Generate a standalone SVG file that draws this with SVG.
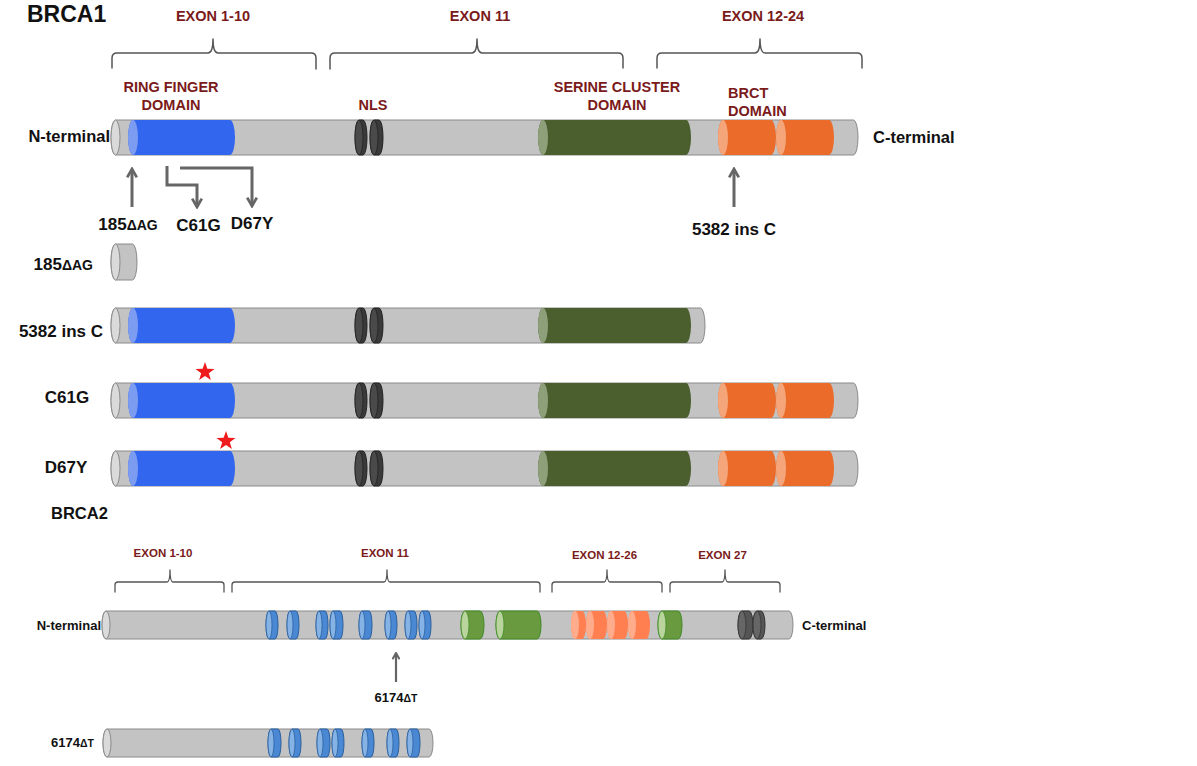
<svg xmlns="http://www.w3.org/2000/svg" xmlns:xlink="http://www.w3.org/1999/xlink" width="1197" height="766" viewBox="0 0 1197 766">
<style>
text{font-family:"Liberation Sans",Arial,sans-serif;font-weight:bold}
.lbl{fill:#111}
.ex{fill:#7a1a1a}
.brace{fill:none;stroke:#555;stroke-width:1.5;stroke-linejoin:round;stroke-linecap:round}
.brace2{fill:none;stroke:#555;stroke-width:1.3;stroke-linejoin:round;stroke-linecap:round}
.gray{fill:#c3c3c3;stroke:#8a8a8a;stroke-width:1}
.grayf{fill:#dadada;stroke:#8a8a8a;stroke-width:1}
.blue{fill:#3366ee}
.bluef{fill:#7c9cf2}
.nls{fill:#3a3a3a;stroke:#222;stroke-width:1}
.nlsf{fill:#4a4a4a;stroke:#222;stroke-width:0.8}
.grn{fill:#4b5e2e}
.grnf{fill:#8da07a}
.org{fill:#ea6b2a}
.orgf{fill:#f4a57a}
.b2blue{fill:#4a88d4;stroke:#2a5f9e;stroke-width:1}
.b2bluef{fill:#86b3e6;stroke:#2a5f9e;stroke-width:0.8}
.b2grn{fill:#6a9a3f;stroke:#3f8a25;stroke-width:1}
.b2grnf{fill:#b9d49c;stroke:#3f8a25;stroke-width:0.8}
.b2org{fill:#ff7f50}
.b2orgf{fill:#ffac8c}
.b2dk{fill:#555;stroke:#333;stroke-width:1}
.b2dkf{fill:#666;stroke:#333;stroke-width:0.8}
.arr{fill:none;stroke:#666;stroke-width:3;marker-end:url(#chev)}
.arr2{fill:none;stroke:#666;stroke-width:2.2;marker-end:url(#chev)}
.star{fill:#ee1c1c}
</style>
<defs>
<marker id="chev" viewBox="0 0 10 10" refX="8.5" refY="5" markerWidth="4" markerHeight="4" markerUnits="strokeWidth" orient="auto">
<path d="M1.5 1 L8.5 5 L1.5 9" fill="none" stroke="#666" stroke-width="2.3"/>
</marker>
<polygon id="starShape" points="0,-10 2.35,-3.24 9.51,-3.09 3.8,1.24 5.88,8.09 0,4 -5.88,8.09 -3.8,1.24 -9.51,-3.09 -2.35,-3.24"/>
<g id="b1front">
<path class="blue" d="M133 0 H230 A5 17.5 0 0 1 230 35 H133 A5 17.5 0 0 1 133 0 Z"/>
<ellipse class="bluef" cx="133" cy="17.5" rx="5" ry="17.5"/>
<path class="nls" d="M359 0 H363 A4 17.5 0 0 1 363 35 H359 A4 17.5 0 0 1 359 0 Z"/>
<ellipse class="nlsf" cx="359" cy="17.5" rx="4" ry="17.5"/>
<path class="nls" d="M374 0 H379 A4 17.5 0 0 1 379 35 H374 A4 17.5 0 0 1 374 0 Z"/>
<ellipse class="nlsf" cx="374" cy="17.5" rx="4" ry="17.5"/>
<path class="grn" d="M543 0 H686 A5 17.5 0 0 1 686 35 H543 A5 17.5 0 0 1 543 0 Z"/>
<ellipse class="grnf" cx="543" cy="17.5" rx="5" ry="17.5"/>
</g>
<g id="b1brct">
<path class="org" d="M723 0 H771 A5 17.5 0 0 1 771 35 H723 A5 17.5 0 0 1 723 0 Z"/>
<ellipse class="orgf" cx="723" cy="17.5" rx="5" ry="17.5"/>
<path class="org" d="M781 0 H829 A5 17.5 0 0 1 829 35 H781 A5 17.5 0 0 1 781 0 Z"/>
<ellipse class="orgf" cx="781" cy="17.5" rx="5" ry="17.5"/>
</g>
<g id="b1fullgray">
<path class="gray" d="M115.5 0 H853.5 A4.5 17.5 0 0 1 853.5 35 H115.5 A4.5 17.5 0 0 1 115.5 0 Z"/>
<ellipse class="grayf" cx="115.5" cy="17.5" rx="4.5" ry="17.5"/>
</g>
</defs>
<rect width="1197" height="766" fill="#fff"/>

<text class="lbl" x="27" y="22" font-size="23">BRCA1</text>

<g id="brca1-exons">
<path class="brace" d="M112 68 V58 Q112 53 117 53 H208 Q213 53 213 39 Q213 53 218 53 H311 Q316 53 316 58 V69"/>
<text class="ex" x="213" y="21" font-size="14.5" text-anchor="middle">EXON 1-10</text>
<path class="brace" d="M330 69 V58 Q330 53 335 53 H472 Q477 53 477 39 Q477 53 482 53 H618 Q623 53 623 58 V68"/>
<text class="ex" x="480" y="21" font-size="14.5" text-anchor="middle">EXON 11</text>
<path class="brace" d="M657 68 V58 Q657 53 662 53 H755 Q760 53 760 39 Q760 53 765 53 H857 Q862 53 862 58 V68"/>
<text class="ex" x="763" y="21" font-size="14.5" text-anchor="middle">EXON 12-24</text>
</g>

<g id="brca1-domains">
<text class="ex" x="171" y="92" font-size="14.5" text-anchor="middle">RING FINGER</text>
<text class="ex" x="171" y="110" font-size="14.5" text-anchor="middle">DOMAIN</text>
<text class="ex" x="373" y="110" font-size="14.5" text-anchor="middle">NLS</text>
<text class="ex" x="617" y="92" font-size="14.5" text-anchor="middle">SERINE CLUSTER</text>
<text class="ex" x="617" y="110" font-size="14.5" text-anchor="middle">DOMAIN</text>
<text class="ex" x="728" y="98" font-size="14.5">BRCT</text>
<text class="ex" x="728" y="116" font-size="14.5">DOMAIN</text>
</g>

<g id="brca1-main">
<use xlink:href="#b1fullgray" href="#b1fullgray" transform="translate(0,120)"/>
<use xlink:href="#b1front" href="#b1front" transform="translate(0,120)"/>
<use xlink:href="#b1brct" href="#b1brct" transform="translate(0,120)"/>
<text class="lbl" x="110" y="142" font-size="16.5" text-anchor="end">N-terminal</text>
<text class="lbl" x="873" y="143" font-size="16.5">C-terminal</text>
</g>

<g id="connectors">
<path class="arr" d="M132 207 V169"/>
<path class="arr" d="M167 166 V185 H197 V207"/>
<path class="arr" d="M180 168 H252 V206"/>
<path class="arr" d="M734 207 V169"/>
<path class="arr2" d="M396 682 V653"/>
</g>

<g id="mutation-labels">
<text class="lbl" x="128" y="230" font-size="17" text-anchor="middle">185<tspan font-size="14">ΔAG</tspan></text>
<text class="lbl" x="198.5" y="231" font-size="17" text-anchor="middle">C61G</text>
<text class="lbl" x="252" y="229" font-size="17" text-anchor="middle">D67Y</text>
<text class="lbl" x="734" y="235" font-size="17" text-anchor="middle">5382 ins C</text>
</g>

<g id="row-185">
<path class="gray" d="M115.5 244 H132.5 A4.5 18 0 0 1 132.5 280 H115.5 A4.5 18 0 0 1 115.5 244 Z"/>
<ellipse class="grayf" cx="115.5" cy="262" rx="4.5" ry="18"/>
<text class="lbl" x="93" y="270" font-size="17" text-anchor="end">185<tspan font-size="14">ΔAG</tspan></text>
</g>

<g id="row-5382">
<path class="gray" d="M115.5 308 H700.5 A4.5 17.5 0 0 1 700.5 343 H115.5 A4.5 17.5 0 0 1 115.5 308 Z"/>
<ellipse class="grayf" cx="115.5" cy="325.5" rx="4.5" ry="17.5"/>
<use xlink:href="#b1front" href="#b1front" transform="translate(0,308)"/>
<text class="lbl" x="103" y="337" font-size="17" text-anchor="end">5382 ins C</text>
</g>

<g id="row-c61g">
<use xlink:href="#b1fullgray" href="#b1fullgray" transform="translate(0,383)"/>
<use xlink:href="#b1front" href="#b1front" transform="translate(0,383)"/>
<use xlink:href="#b1brct" href="#b1brct" transform="translate(0,383)"/>
<use xlink:href="#starShape" href="#starShape" class="star" transform="translate(205,372)"/>
<text class="lbl" x="67" y="403" font-size="17" text-anchor="middle">C61G</text>
</g>

<g id="row-d67y">
<use xlink:href="#b1fullgray" href="#b1fullgray" transform="translate(0,451)"/>
<use xlink:href="#b1front" href="#b1front" transform="translate(0,451)"/>
<use xlink:href="#b1brct" href="#b1brct" transform="translate(0,451)"/>
<use xlink:href="#starShape" href="#starShape" class="star" transform="translate(226,441)"/>
<text class="lbl" x="66" y="473" font-size="17" text-anchor="middle">D67Y</text>
</g>

<text class="lbl" x="51" y="519" font-size="16.5">BRCA2</text>

<g id="brca2-exons">
<path class="brace2" d="M115 592 V585 Q115 582 118 582 H167 Q170 582 170 570 Q170 582 173 582 H221 Q224 582 224 585 V592"/>
<text class="ex" x="163" y="557" font-size="11.5" text-anchor="middle">EXON 1-10</text>
<path class="brace2" d="M232 592 V585 Q232 582 235 582 H384 Q387 582 387 570 Q387 582 390 582 H537 Q540 582 540 585 V592"/>
<text class="ex" x="385" y="557" font-size="11.5" text-anchor="middle">EXON 11</text>
<path class="brace2" d="M552 592 V585 Q552 582 555 582 H604 Q607 582 607 570 Q607 582 610 582 H659 Q662 582 662 585 V592"/>
<text class="ex" x="604.5" y="559" font-size="11.5" text-anchor="middle">EXON 12-26</text>
<path class="brace2" d="M670 592 V585 Q670 582 673 582 H722 Q725 582 725 570 Q725 582 728 582 H777 Q780 582 780 585 V592"/>
<text class="ex" x="722.5" y="559" font-size="11.5" text-anchor="middle">EXON 27</text>
</g>

<g id="brca2-main">
<path class="gray" d="M106 611 H789 A4 14 0 0 1 789 639 H106 A4 14 0 0 1 106 611 Z"/>
<ellipse class="grayf" cx="106" cy="625" rx="4" ry="14"/>
<path class="b2blue" d="M269 611 H275 A3 14 0 0 1 275 639 H269 A3 14 0 0 1 269 611 Z"/><ellipse class="b2bluef" cx="269" cy="625" rx="3" ry="14"/>
<path class="b2blue" d="M290 611 H296 A3 14 0 0 1 296 639 H290 A3 14 0 0 1 290 611 Z"/><ellipse class="b2bluef" cx="290" cy="625" rx="3" ry="14"/>
<path class="b2blue" d="M319 611 H325 A3 14 0 0 1 325 639 H319 A3 14 0 0 1 319 611 Z"/><ellipse class="b2bluef" cx="319" cy="625" rx="3" ry="14"/>
<path class="b2blue" d="M333 611 H340 A3 14 0 0 1 340 639 H333 A3 14 0 0 1 333 611 Z"/><ellipse class="b2bluef" cx="333" cy="625" rx="3" ry="14"/>
<path class="b2blue" d="M362 611 H369 A3 14 0 0 1 369 639 H362 A3 14 0 0 1 362 611 Z"/><ellipse class="b2bluef" cx="362" cy="625" rx="3" ry="14"/>
<path class="b2blue" d="M388 611 H394 A3 14 0 0 1 394 639 H388 A3 14 0 0 1 388 611 Z"/><ellipse class="b2bluef" cx="388" cy="625" rx="3" ry="14"/>
<path class="b2blue" d="M408 611 H414 A3 14 0 0 1 414 639 H408 A3 14 0 0 1 408 611 Z"/><ellipse class="b2bluef" cx="408" cy="625" rx="3" ry="14"/>
<path class="b2blue" d="M422 611 H428 A3 14 0 0 1 428 639 H422 A3 14 0 0 1 422 611 Z"/><ellipse class="b2bluef" cx="422" cy="625" rx="3" ry="14"/>
<path class="b2grn" d="M465 611 H480 A4 14 0 0 1 480 639 H465 A4 14 0 0 1 465 611 Z"/><ellipse class="b2grnf" cx="465" cy="625" rx="4" ry="14"/>
<path class="b2grn" d="M500 611 H537 A4 14 0 0 1 537 639 H500 A4 14 0 0 1 500 611 Z"/><ellipse class="b2grnf" cx="500" cy="625" rx="4" ry="14"/>
<path class="b2org" d="M575 611 H582 A4 14 0 0 1 582 639 H575 A4 14 0 0 1 575 611 Z"/><ellipse class="b2orgf" cx="575" cy="625" rx="4" ry="14"/>
<path class="b2org" d="M590 611 H603 A4 14 0 0 1 603 639 H590 A4 14 0 0 1 590 611 Z"/><ellipse class="b2orgf" cx="590" cy="625" rx="4" ry="14"/>
<path class="b2org" d="M611 611 H624 A4 14 0 0 1 624 639 H611 A4 14 0 0 1 611 611 Z"/><ellipse class="b2orgf" cx="611" cy="625" rx="4" ry="14"/>
<path class="b2org" d="M632 611 H646 A4 14 0 0 1 646 639 H632 A4 14 0 0 1 632 611 Z"/><ellipse class="b2orgf" cx="632" cy="625" rx="4" ry="14"/>
<path class="b2grn" d="M662 611 H678 A4 14 0 0 1 678 639 H662 A4 14 0 0 1 662 611 Z"/><ellipse class="b2grnf" cx="662" cy="625" rx="4" ry="14"/>
<path class="b2dk" d="M742 611 H749 A4 14 0 0 1 749 639 H742 A4 14 0 0 1 742 611 Z"/><ellipse class="b2dkf" cx="742" cy="625" rx="4" ry="14"/>
<path class="b2dk" d="M757 611 H761 A4 14 0 0 1 761 639 H757 A4 14 0 0 1 757 611 Z"/><ellipse class="b2dkf" cx="757" cy="625" rx="4" ry="14"/>
<text class="lbl" x="101" y="630" font-size="13" text-anchor="end">N-terminal</text>
<text class="lbl" x="802" y="630" font-size="13">C-terminal</text>
</g>

<text class="lbl" x="396" y="702" font-size="13" text-anchor="middle">6174<tspan font-size="10.5">ΔT</tspan></text>

<g id="row-6174">
<path class="gray" d="M107 729 H429 A4 14 0 0 1 429 757 H107 A4 14 0 0 1 107 729 Z"/>
<ellipse class="grayf" cx="107" cy="743" rx="4" ry="14"/>
<path class="b2blue" d="M271 729 H278 A3 14 0 0 1 278 757 H271 A3 14 0 0 1 271 729 Z"/><ellipse class="b2bluef" cx="271" cy="743" rx="3" ry="14"/>
<path class="b2blue" d="M292 729 H298 A3 14 0 0 1 298 757 H292 A3 14 0 0 1 292 729 Z"/><ellipse class="b2bluef" cx="292" cy="743" rx="3" ry="14"/>
<path class="b2blue" d="M320 729 H327 A3 14 0 0 1 327 757 H320 A3 14 0 0 1 320 729 Z"/><ellipse class="b2bluef" cx="320" cy="743" rx="3" ry="14"/>
<path class="b2blue" d="M335 729 H341 A3 14 0 0 1 341 757 H335 A3 14 0 0 1 335 729 Z"/><ellipse class="b2bluef" cx="335" cy="743" rx="3" ry="14"/>
<path class="b2blue" d="M365 729 H371 A3 14 0 0 1 371 757 H365 A3 14 0 0 1 365 729 Z"/><ellipse class="b2bluef" cx="365" cy="743" rx="3" ry="14"/>
<path class="b2blue" d="M390 729 H396 A3 14 0 0 1 396 757 H390 A3 14 0 0 1 390 729 Z"/><ellipse class="b2bluef" cx="390" cy="743" rx="3" ry="14"/>
<path class="b2blue" d="M410 729 H417 A3 14 0 0 1 417 757 H410 A3 14 0 0 1 410 729 Z"/><ellipse class="b2bluef" cx="410" cy="743" rx="3" ry="14"/>
<text class="lbl" x="94" y="747" font-size="13" text-anchor="end">6174<tspan font-size="10.5">ΔT</tspan></text>
</g>
</svg>
